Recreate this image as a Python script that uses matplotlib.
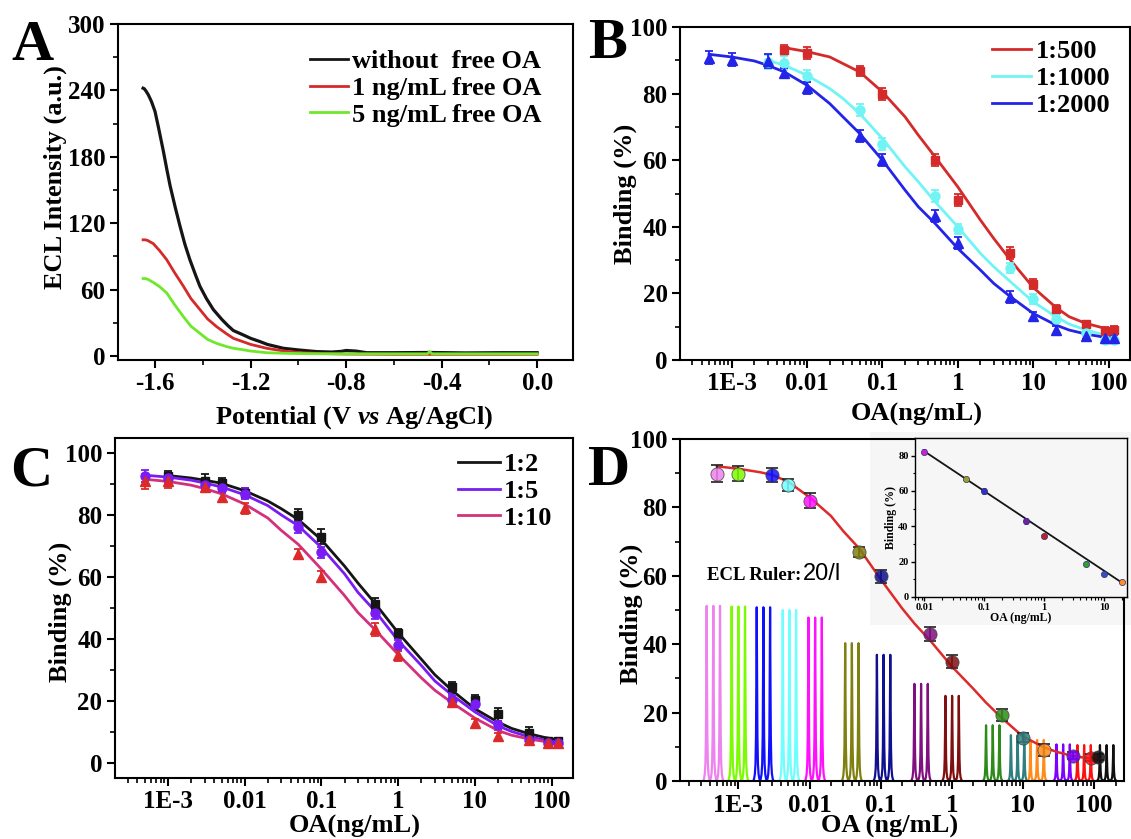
import numpy as np
import matplotlib
matplotlib.use('Agg')
import matplotlib.pyplot as plt
from matplotlib.patches import Rectangle
from matplotlib.ticker import LogLocator, NullFormatter, MultipleLocator

plt.rcParams['font.family'] = ['Liberation Serif', 'DejaVu Serif']
plt.rcParams['font.weight'] = 'bold'
plt.rcParams['axes.labelweight'] = 'bold'
plt.rcParams['mathtext.fontset'] = 'custom'
plt.rcParams['mathtext.rm'] = 'Liberation Serif:bold'
plt.rcParams['mathtext.it'] = 'Liberation Serif:italic:bold'

# ---------------- panel A: ECL-potential curves ----------------
a_x_black = [-1.650, -1.645, -1.638, -1.628, -1.615, -1.600, -1.585, -1.565, -1.550, -1.537,
             -1.515, -1.495, -1.475, -1.454, -1.430, -1.412, -1.385, -1.356, -1.320, -1.295,
             -1.272, -1.230, -1.200, -1.160, -1.130, -1.063, -1.000, -0.924, -0.860, -0.820,
             -0.800, -0.760, -0.714, -0.600, -0.450, -0.300, -0.150, 0.0]
a_y_black = [242, 241.5, 239.5, 236, 230, 221, 206, 185, 168, 154,
             134, 117, 101, 87, 73, 63, 52, 42, 33, 27.5,
             23, 19, 16, 13, 10.5, 7, 5.5, 4, 3.6, 4.2,
             5, 4.5, 3, 3, 3.2, 2.8, 3, 3]
a_x_red = [-1.650, -1.640, -1.630, -1.607, -1.580, -1.551, -1.520, -1.481, -1.450, -1.412,
           -1.380, -1.342, -1.300, -1.272, -1.230, -1.200, -1.133, -1.060, -0.993, -0.900,
           -0.800, -0.600, -0.400, -0.200, 0.0]
a_y_red = [105, 105, 104.3, 101.5, 95, 87, 76, 63, 52, 42,
           33.5, 26.5, 20, 16, 12.8, 10.5, 7, 4.5, 3, 2.2,
           1.8, 1.5, 1.5, 1.5, 1.5]
a_x_green = [-1.650, -1.640, -1.630, -1.607, -1.580, -1.551, -1.520, -1.481, -1.450, -1.412,
             -1.380, -1.342, -1.300, -1.272, -1.230, -1.200, -1.133, -1.060, -0.993, -0.900,
             -0.800, -0.600, -0.460, -0.450, -0.440, -0.400, -0.200, 0.0]
a_y_green = [70, 70, 69.3, 66.5, 62.5, 57, 47, 35.5, 27, 20.5,
             15, 11.4, 8.5, 7, 5.6, 4.5, 3, 2.5, 2.2, 2,
             2, 2, 2, 4, 2, 2, 2, 2]
a_labels = ['without  free OA', '1 ng/mL free OA', '5 ng/mL free OA']

# ---------------- panel B: antibody dilution ----------------
b_x_500 = [0.005, 0.01, 0.05, 0.1, 0.5, 1, 5, 10, 20, 50, 90, 120]
b_y_500 = [93.2, 92.2, 86.8, 79.8, 60, 48, 32, 22.8, 15.2, 10.8, 8.8, 9]
b_e_500 = [1.5, 1.8, 1.5, 1.8, 1.8, 1.8, 1.8, 1.5, 1.2, 1.0, 1.2, 1.2]
b_x_1000 = [0.003, 0.005, 0.01, 0.05, 0.1, 0.5, 1, 5, 10, 20, 50, 90, 120]
b_y_1000 = [89.5, 89.2, 85.2, 75, 65, 49.2, 39.2, 27.5, 18.2, 12.2, 8, 6, 6]
b_e_1000 = [2.0, 2.0, 1.8, 1.8, 1.8, 1.8, 1.5, 1.5, 1.5, 1.2, 1.0, 1.0, 1.0]
b_x_2000 = [0.0005, 0.001, 0.003, 0.005, 0.01, 0.05, 0.1, 0.5, 1, 5, 10, 20, 50, 90, 120]
b_y_2000 = [90.8, 90.2, 89.8, 86.2, 81.8, 67.2, 60.2, 43.2, 35.2, 19, 13.2, 9, 7.2, 6.5, 6.5]
b_e_2000 = [2.0, 2.0, 2.0, 1.5, 1.8, 1.8, 1.8, 1.8, 1.8, 1.8, 1.2, 1.2, 1.0, 1.0, 1.0]

b_fit_x_500 = [0.005, 0.01, 0.02, 0.03, 0.05, 0.1, 0.2, 0.3, 0.5, 1, 2, 3, 5, 10, 20, 30, 50, 80, 120]
b_fit_y_500 = [93.8, 92.6, 91, 89, 86.5, 80.5, 73, 67.5, 61, 52, 42, 36.5, 30, 21.8, 15.8, 13, 11, 9.8, 9]
b_fit_x_1000 = [0.003, 0.005, 0.01, 0.02, 0.03, 0.05, 0.1, 0.2, 0.3, 0.5, 1, 2, 3, 5, 10, 20, 30, 50, 80, 120]
b_fit_y_1000 = [90, 88.5, 85.5, 81.5, 78.5, 74, 66.5, 58, 53.5, 47.5, 40, 32, 28, 23.5, 17.5, 13, 10.8, 9, 7.8, 7]
b_fit_x_2000 = [0.0005, 0.001, 0.002, 0.003, 0.005, 0.01, 0.02, 0.03, 0.05, 0.1, 0.2, 0.3, 0.5, 1, 2, 3,
                5, 10, 20, 30, 50, 80, 120]
b_fit_y_2000 = [91.8, 91, 89.8, 88.5, 86.5, 82.5, 77, 73, 68, 60, 51, 46, 41, 33.5, 27, 23,
                19, 14, 10.5, 9, 7.8, 7, 6.5]
b_labels = ['1:500', '1:1000', '1:2000']

# ---------------- panel C: probe dilution ----------------
c_x_2 = [0.001, 0.003, 0.005, 0.01, 0.05, 0.1, 0.5, 1, 5, 10, 20, 50, 90, 120]
c_y_2 = [92.7, 90.8, 90.3, 87.2, 80, 73, 51.3, 41.8, 24.4, 20.3, 15.7, 9.7, 7, 7]
c_e_2 = [1.5, 2.5, 1.5, 1.5, 1.8, 2.5, 1.8, 1.5, 1.8, 1.5, 2.0, 2.0, 1.2, 1.2]
c_x_5 = [0.0005, 0.001, 0.003, 0.005, 0.01, 0.05, 0.1, 0.5, 1, 5, 10, 20, 50, 90, 120]
c_y_5 = [92.5, 91.9, 89.8, 88.7, 86.9, 76, 67.9, 48.3, 38, 20.3, 19.2, 12.2, 7.6, 6.5, 6.5]
c_e_5 = [2.0, 1.5, 1.5, 1.5, 1.8, 1.8, 1.8, 1.8, 1.8, 1.5, 1.2, 1.5, 1.2, 1.0, 1.0]
c_x_10 = [0.0005, 0.001, 0.003, 0.005, 0.01, 0.05, 0.1, 0.5, 1, 5, 10, 20, 50, 90, 120]
c_y_10 = [90.8, 90.8, 89, 85.8, 82.2, 67.5, 60.1, 43.1, 34.8, 19.7, 12.9, 8.6, 7.5, 6.5, 6.5]
c_e_10 = [2.5, 2.0, 1.5, 1.5, 1.8, 1.5, 1.8, 2.0, 1.8, 1.5, 1.2, 1.2, 1.2, 1.0, 1.0]

c_fit_x_2 = [0.001, 0.002, 0.003, 0.005, 0.01, 0.02, 0.03, 0.05, 0.1, 0.2, 0.3, 0.5, 1, 2, 3, 5, 10, 20, 30, 50, 80, 120]
c_fit_y_2 = [92.7, 91.9, 91.2, 90.2, 87.8, 84.5, 82, 78.5, 72, 63.5, 58, 51.5, 42, 33.5, 28.5, 23.5, 17.5, 13.2, 11.2, 9.5, 8.3, 7.5]
c_fit_x_5 = [0.0005, 0.001, 0.002, 0.003, 0.005, 0.01, 0.02, 0.03, 0.05, 0.1, 0.2, 0.3, 0.5, 1, 2, 3,
             5, 10, 20, 30, 50, 80, 120]
c_fit_y_5 = [92.8, 92.2, 91.2, 90.3, 89, 86.5, 83, 80, 76.5, 69.5, 61, 55, 49, 39.5, 31.5, 26.5,
             22, 16.5, 12, 10.2, 8.5, 7.5, 6.7]
c_fit_x_10 = [0.0005, 0.001, 0.002, 0.003, 0.005, 0.01, 0.02, 0.03, 0.05, 0.1, 0.2, 0.3, 0.5, 1, 2, 3,
              5, 10, 20, 30, 50, 80, 120]
c_fit_y_10 = [91.5, 90.8, 89.6, 88.5, 86.8, 83.5, 79, 75, 70.5, 62.5, 54, 48.5, 43, 35, 27.5, 23.5,
              19.5, 14.5, 10.5, 9, 7.8, 7, 6.3]
c_labels = ['1:2', '1:5', '1:10']

# ---------------- panel D: calibration + ECL ruler ----------------
d_conc = [0.0005, 0.001, 0.003, 0.005, 0.01, 0.05, 0.1, 0.5, 1, 5, 10, 20, 50, 90, 115]
d_bind = [89.9, 89.9, 89.4, 86.6, 82, 66.9, 59.8, 43, 34.9, 19.3, 12.7, 9, 7.4, 6.8, 7]
d_err = [2.5, 2.2, 2.0, 1.8, 2.2, 1.5, 2.0, 2.0, 2.0, 1.8, 1.2, 1.8, 1.0, 1.0, 1.0]
d_colors = ['#ee82ee', '#7cfc00', '#1010ff', '#70ffff', '#ff10ff', '#808010', '#101090',
            '#801080', '#801010', '#2e8b1a', '#2f7f7f', '#ff8c1a', '#7f00ff', '#ff1010', '#101010']
d_fit_x = [0.0005, 0.001, 0.002, 0.003, 0.005, 0.01, 0.02, 0.03, 0.05, 0.1, 0.2, 0.3, 0.5, 1, 2, 3,
           5, 10, 20, 30, 50, 80, 120]
d_fit_y = [92, 91.3, 90.3, 89.5, 87.5, 83, 77.5, 73, 68, 59, 50.5, 46, 41, 33.5, 27, 23,
           18.5, 13, 9.8, 8.5, 7.3, 6.7, 6.3]

ruler_mid = [0.000445, 0.001, 0.00225, 0.00522, 0.012, 0.0394, 0.110, 0.370, 1.01,
             3.76, 8.41, 15.8, 36.7, 72.4, 150]
ruler_height = [51.2, 51.0, 50.8, 50.0, 47.8, 40.3, 36.9, 28.4, 24.9,
                16.3, 13.4, 12.0, 10.7, 10.5, 10.5]

inset_x = [0.01, 0.05, 0.1, 0.5, 1, 5, 10, 20]
inset_y = [82.3, 67, 60, 42.9, 34.7, 18.7, 13, 8.6]
inset_err = [1.5, 1.2, 1.8, 1.8, 1.2, 1.2, 1.0, 1.0]
inset_colors = ['#cc22cc', '#a0a020', '#3030c0', '#7020a0', '#c02020', '#30a030', '#3050c0', '#ff9020']
inset_fit_x = [0.01, 20]
inset_fit_y = [82.5, 8.0]

# peak shape template for one ruler peak (offset in decades, relative height)
peak_gap = 0.094
peak_off = [-0.047, -0.036, -0.026, -0.017, -0.010, -0.005, 0.0, 0.005, 0.010, 0.017, 0.026, 0.036, 0.047]
peak_rel = [0.0, 0.015, 0.04, 0.10, 0.26, 0.60, 1.0, 0.60, 0.26, 0.10, 0.04, 0.015, 0.0]

W, H = 1131, 839
fig = plt.figure(figsize=(W / 100, H / 100), dpi=100)
fig.patch.set_facecolor('white')


def px_axes(l, t, r, b):
    return fig.add_axes([l / W, 1 - b / H, (r - l) / W, (b - t) / H])


def style(ax, fs=18, lw=1.5):
    for s in ax.spines.values():
        s.set_linewidth(lw)
    ax.tick_params(which='major', direction='out', length=6, width=lw, labelsize=fs, pad=3)
    ax.tick_params(which='minor', direction='out', length=3.5, width=1.2)


def log_axis(ax, lo, hi, ticks, labels):
    ax.set_xscale('log')
    ax.set_xlim(lo, hi)
    ax.set_xticks(ticks)
    ax.set_xticklabels(labels)
    ax.xaxis.set_minor_locator(LogLocator(base=10, subs=np.arange(2, 10), numticks=40))
    ax.xaxis.set_minor_formatter(NullFormatter())


log_ticks = [1e-3, 1e-2, 1e-1, 1, 10, 100]
log_labels = ['1E-3', '0.01', '0.1', '1', '10', '100']

# ---- A ----
axA = px_axes(118, 24, 573, 360)
style(axA)
axA.plot(a_x_black, a_y_black, color='#151515', lw=2.3, label=a_labels[0])
axA.plot(a_x_red, a_y_red, color='#d42a2a', lw=2.0, label=a_labels[1])
axA.plot(a_x_green, a_y_green, color='#6ee82a', lw=2.0, label=a_labels[2])
axA.set_xlim(-1.755, 0.15)
axA.set_ylim(-3.6, 300)
axA.set_xticks([-1.6, -1.2, -0.8, -0.4, 0.0])
axA.set_xticklabels(['-1.6', '-1.2', '-0.8', '-0.4', '0.0'])
axA.xaxis.set_minor_locator(MultipleLocator(0.2))
axA.set_yticks([0, 60, 120, 180, 240, 300])
axA.yaxis.set_minor_locator(MultipleLocator(30))
axA.set_xlabel(r'Potential (V $\mathit{vs}$ Ag/AgCl)', fontsize=19)
axA.set_ylabel('ECL Intensity (a.u.)', fontsize=19)
axA.xaxis.set_label_coords(0.52, -0.131)
axA.yaxis.set_label_coords(-0.112, 0.545)
legA = axA.legend(loc='upper left', bbox_to_anchor=(0.422, 0.923), frameon=False, fontsize=19,
                  handlelength=1.45, handletextpad=0.15, labelspacing=0.12, borderpad=0, borderaxespad=0)
for ln in legA.get_lines():
    ln.set_linewidth(2.0)

# ---- B ----
axB = px_axes(680, 27, 1130, 360)
style(axB)
for xs, ys, es, fx, fy, col, mk, ms, lab in [
        (b_x_500, b_y_500, b_e_500, b_fit_x_500, b_fit_y_500, '#d42a2a', 's', 6, b_labels[0]),
        (b_x_1000, b_y_1000, b_e_1000, b_fit_x_1000, b_fit_y_1000, '#70f4f4', 'o', 6.5, b_labels[1]),
        (b_x_2000, b_y_2000, b_e_2000, b_fit_x_2000, b_fit_y_2000, '#2424e8', '^', 7, b_labels[2])]:
    axB.plot(fx, fy, color=col, lw=2.0, label=lab)
    axB.errorbar(xs, ys, yerr=es, fmt=mk, color=col, ms=ms, capsize=3, elinewidth=1.3, capthick=1.3)
log_axis(axB, 10 ** -3.686, 10 ** 2.285, log_ticks, log_labels)
axB.set_ylim(0, 100)
axB.set_yticks([0, 20, 40, 60, 80, 100])
axB.yaxis.set_minor_locator(MultipleLocator(10))
axB.set_xlabel('OA(ng/mL)', fontsize=19)
axB.set_ylabel('Binding (%)', fontsize=19)
axB.xaxis.set_label_coords(0.527, -0.129)
axB.yaxis.set_label_coords(-0.096, 0.5)
axB.legend(loc='upper left', bbox_to_anchor=(0.693, 0.961), frameon=False, fontsize=19,
           handlelength=1.5, handletextpad=0.15, labelspacing=0.12, borderpad=0, borderaxespad=0)

# ---- C ----
axC = px_axes(115, 438, 573, 778)
style(axC)
for xs, ys, es, fx, fy, lcol, mcol, mk, ms, lab in [
        (c_x_2, c_y_2, c_e_2, c_fit_x_2, c_fit_y_2, '#151515', '#151515', 's', 6, c_labels[0]),
        (c_x_5, c_y_5, c_e_5, c_fit_x_5, c_fit_y_5, '#7a1cf4', '#7a1cf4', 'o', 6.5, c_labels[1]),
        (c_x_10, c_y_10, c_e_10, c_fit_x_10, c_fit_y_10, '#d4317c', '#dc2a2a', '^', 7, c_labels[2])]:
    axC.plot(fx, fy, color=lcol, lw=2.0, label=lab)
    axC.errorbar(xs, ys, yerr=es, fmt=mk, color=mcol, ms=ms, capsize=3, elinewidth=1.3, capthick=1.3)
log_axis(axC, 10 ** -3.69, 10 ** 2.278, log_ticks, log_labels)
axC.set_ylim(-4.8, 104.8)
axC.set_yticks([0, 20, 40, 60, 80, 100])
axC.yaxis.set_minor_locator(MultipleLocator(10))
axC.set_xlabel('OA(ng/mL)', fontsize=19)
axC.set_ylabel('Binding (%)', fontsize=19)
axC.xaxis.set_label_coords(0.524, -0.109)
axC.yaxis.set_label_coords(-0.094, 0.49)
axC.legend(loc='upper left', bbox_to_anchor=(0.749, 0.956), frameon=False, fontsize=19,
           handlelength=1.6, handletextpad=0.15, labelspacing=0.12, borderpad=0, borderaxespad=0)

# ---- D ----
axD = px_axes(680, 439, 1124, 781)
style(axD)
# faint grey backdrop of the pasted inset picture
axD.add_patch(Rectangle((0.428, 0.456), 0.62, 0.565, transform=axD.transAxes,
                        facecolor='#f6f6f6', edgecolor='none', clip_on=False, zorder=0.5))
for mid, h, col in zip(ruler_mid, ruler_height, d_colors):
    xs, ys = [], []
    for k in (-1, 0, 1):
        c = np.log10(mid) + k * peak_gap
        xs += [10 ** (c + o) for o in peak_off]
        ys += [h * r for r in peak_rel]
    axD.plot(xs, ys, color=col, lw=1.6, zorder=2)
axD.plot(d_fit_x, d_fit_y, color='#dd2a2a', lw=1.8, zorder=3)
for x, y, e, col in zip(d_conc, d_bind, d_err, d_colors):
    axD.errorbar([x], [y], yerr=[e], fmt='none', ecolor='#202020', elinewidth=1.2,
                 capsize=4, capthick=1.2, zorder=4)
    axD.plot([x], [y], 'o', ms=9.5, color=col, mec='#404040', mew=0.6, alpha=0.85, zorder=5)
log_axis(axD, 10 ** -3.82, 10 ** 2.42, log_ticks, log_labels)
axD.set_ylim(0, 100)
axD.set_yticks([0, 20, 40, 60, 80, 100])
axD.yaxis.set_minor_locator(MultipleLocator(10))
axD.set_xlabel('OA (ng/mL)', fontsize=19)
axD.set_ylabel('Binding (%)', fontsize=19)
axD.xaxis.set_label_coords(0.473, -0.099)
axD.yaxis.set_label_coords(-0.083, 0.49)
axD.text(0.061, 0.588, 'ECL Ruler:', transform=axD.transAxes, fontsize=13.5, fontweight='bold',
         ha='left', va='baseline')
axD.text(0.277, 0.588, '20/l', transform=axD.transAxes, fontsize=17, fontweight='normal',
         family=['Liberation Sans Narrow', 'Liberation Sans'], ha='left', va='baseline')

# inset
axI = px_axes(915, 438, 1127, 597)
axI.set_facecolor('#f6f6f6')
for s in axI.spines.values():
    s.set_linewidth(1.0)
axI.tick_params(which='major', direction='out', length=3, width=1.0, labelsize=7.5, pad=1.5)
axI.tick_params(which='minor', direction='out', length=1.8, width=0.8)
axI.plot(inset_fit_x, inset_fit_y, color='#151515', lw=1.3, zorder=2)
for x, y, e, col in zip(inset_x, inset_y, inset_err, inset_colors):
    axI.errorbar([x], [y], yerr=[e], fmt='o', color=col, ms=4.5, mec='#303080', mew=0.5,
                 ecolor='#3030a0', elinewidth=0.8, capsize=1.5, zorder=3)
axI.set_xscale('log')
axI.set_xlim(0.007, 24)
axI.set_xticks([0.01, 0.1, 1, 10])
axI.set_xticklabels(['0.01', '0.1', '1', '10'])
axI.xaxis.set_minor_locator(LogLocator(base=10, subs=np.arange(2, 10), numticks=20))
axI.xaxis.set_minor_formatter(NullFormatter())
axI.set_ylim(0, 90)
axI.set_yticks([0, 20, 40, 60, 80])
axI.yaxis.set_minor_locator(MultipleLocator(10))
axI.set_xlabel('OA (ng/mL)', fontsize=8.5, labelpad=0)
axI.set_ylabel('Binding (%)', fontsize=8.5, labelpad=1)

# panel letters
for ch, cx, by in [('A', 32, 60), ('B', 607, 58), ('C', 31, 485), ('D', 609, 485)]:
    fig.text(cx / W, 1 - by / H, ch, fontsize=42, fontweight='bold', ha='center', va='baseline')

fig.savefig('out.png', dpi=100, facecolor='white')
